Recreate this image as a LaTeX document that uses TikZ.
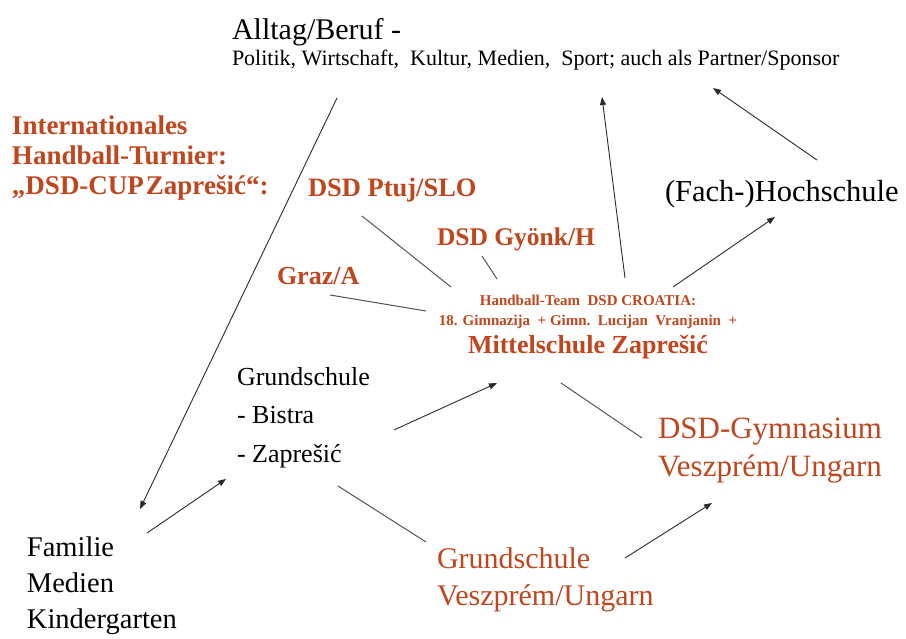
\documentclass[tikz,border=0pt]{standalone}
\usepackage{fontspec}
\setmainfont{Liberation Serif}
\usepackage{xcolor}
\usetikzlibrary{arrows.meta}
\definecolor{dsdRed}{HTML}{C0461E}
\definecolor{lineGray}{HTML}{555555}
\definecolor{arrowGray}{HTML}{2B2B2B}
\tikzset{
  txt/.style={inner sep=0pt, outer sep=0pt, align=left, text=black},
  redtxt/.style={txt, text=dsdRed},
  boldred/.style={redtxt, font=\bfseries\fontsize{26}{30}\selectfont},
  arrow/.style={-{Triangle[length=8pt,width=6pt]}, line width=0.9pt, draw=arrowGray},
  link/.style={line width=1pt, draw=lineGray}
}
\begin{document}
\begin{tikzpicture}[x=1pt, y=-1pt]
  \useasboundingbox[fill=white] (0,0) rectangle (906,639);

  \node[txt, anchor=base west, font=\fontsize{30}{36}\selectfont] (alltag) at (232,40) {Alltag/Beruf -};
  \node[txt, anchor=base west, font=\fontsize{22}{26}\selectfont] (bereiche) at (232,66) {Politik, Wirtschaft,\ \ Kultur, Medien,\ \ Sport;\ auch als Partner/Sponsor};
  \node[boldred, anchor=base west, font=\bfseries\fontsize{27}{30}\selectfont] (turnier) at (12,195) {Internationales\\Handball-Turnier:\\„DSD-CUP\hspace{2pt}Zaprešić“:};
  \node[boldred, anchor=base west, font=\bfseries\fontsize{26.5}{30}\selectfont] (ptuj) at (308,197) {DSD Ptuj/SLO};
  \node[boldred, anchor=base west, font=\bfseries\fontsize{25.5}{30}\selectfont] (gyoenk) at (437,246) {DSD Gyönk/H};
  \node[boldred, anchor=base west] (graz) at (277,285) {Graz/A};
  \node[redtxt, anchor=base, align=center, font=\bfseries\fontsize{15}{20}\selectfont] (team) at (588,354)
    {Handball-Team\ \ DSD CROATIA:\\18. Gimnazija\ \ + Gimn.\ \ Lucijan\ \ Vranjanin\ \ +\\[6pt]{\fontsize{26}{27}\selectfont Mittelschule Zaprešić}};
  \node[txt, anchor=base west, font=\fontsize{26}{38.5}\selectfont] (grund) at (237,462) {Grundschule\\- Bistra\\- Zaprešić};
  \node[txt, anchor=base west, font=\fontsize{30.5}{36}\selectfont] (hochschule) at (665,202) {(Fach-)Hochschule};
  \node[redtxt, anchor=base west, font=\fontsize{31}{38}\selectfont] (gymnasium) at (658,476) {DSD-Gymnasium\\Veszprém/Ungarn};
  \node[txt, anchor=base west, font=\fontsize{28.5}{36}\selectfont] (familie) at (27,628) {Familie\\Medien\\Kindergarten};
  \node[redtxt, anchor=base west, font=\fontsize{30}{37}\selectfont] (gvesz) at (437,605) {Grundschule\\Veszprém/Ungarn};

  \draw[arrow] ([shift={(105,32)}]bereiche.base west) -- ([shift={(113,-119)}]familie.base west);
  \draw[arrow] ([shift={(120,-95)}]familie.base west) -- ([shift={(-11,17)}]grund.base west);
  \draw[arrow] ([shift={(157,-32)}]grund.base west) -- ([shift={(-91,29)}]team.base);
  \draw[link] ([shift={(101,24)}]grund.base west) -- ([shift={(-11,-63)}]gvesz.base west);
  \draw[arrow] ([shift={(188,-47)}]gvesz.base west) -- ([shift={(54,27)}]gymnasium.base west);
  \draw[link] ([shift={(-27,29)}]team.base) -- ([shift={(-16,-38)}]gymnasium.base west);
  \draw[arrow] ([shift={(37,-76)}]team.base) -- ([shift={(370,31)}]bereiche.base west);
  \draw[arrow] ([shift={(85,-67)}]team.base) -- ([shift={(110,15)}]hochschule.base west);
  \draw[arrow] ([shift={(152,-42)}]hochschule.base west) -- ([shift={(481,22)}]bereiche.base west);
  \draw[link] ([shift={(54,19)}]ptuj.base west) -- ([shift={(-137,-67)}]team.base);
  \draw[link] ([shift={(45,10)}]gyoenk.base west) -- ([shift={(-91,-75)}]team.base);
  \draw[link] ([shift={(53,10)}]graz.base west) -- ([shift={(-162,-43)}]team.base);
\end{tikzpicture}
\end{document}
